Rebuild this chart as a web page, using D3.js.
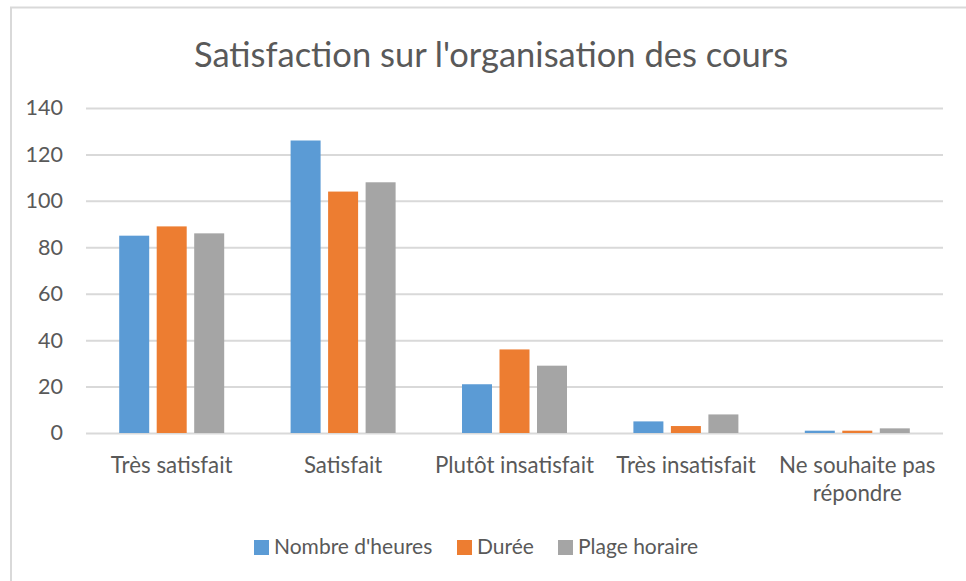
<!DOCTYPE html>
<html>
<head>
<meta charset="utf-8">
<script src="https://cdn.jsdelivr.net/npm/d3@7"></script>
<style>
  body { margin: 0; background: #fff; }
  svg { display: block; font-family: Lato, "Open Sans", sans-serif; }
</style>
</head>
<body>
<svg></svg>
<script>
const categories = ["Très satisfait", "Satisfait", "Plutôt insatisfait", "Très insatisfait", "Ne souhaite pas répondre"];
const seriesNames = ["Nombre d'heures", "Durée", "Plage horaire"];
const nombreHeures = [85, 126, 21, 5, 1];
const duree = [89, 104, 36, 3, 1];
const plageHoraire = [86, 108, 29, 8, 2];
const yTicks = [0, 20, 40, 60, 80, 100, 120, 140];

const colors = ["#5B9BD5", "#ED7D31", "#A5A5A5"];
const seriesValues = [nombreHeures, duree, plageHoraire];

const width = 966;
const height = 581;
const plotLeft = 86;
const plotRight = 943;
const plotTop = 108;
const plotBottom = 433;

const svg = d3.select("svg").attr("width", width).attr("height", height);

// chart frame
svg
  .append("rect")
  .attr("x", 11)
  .attr("y", 7.5)
  .attr("width", 980)
  .attr("height", 580)
  .attr("fill", "#fff")
  .attr("stroke", "#D9D9D9")
  .attr("stroke-width", 2);

svg
  .append("text")
  .attr("x", 491)
  .attr("y", 67)
  .attr("text-anchor", "middle")
  .attr("fill", "#595959")
  .style("font-size", "34.5px")
  .text("Satisfaction sur l'organisation des cours");

const x0 = d3.scaleBand().domain(categories).range([plotLeft, plotRight]).paddingInner(0).paddingOuter(0);
const groupWidth = 105;
const x1 = d3
  .scaleBand()
  .domain(d3.range(seriesNames.length))
  .range([(x0.bandwidth() - groupWidth) / 2, (x0.bandwidth() + groupWidth) / 2])
  .paddingInner(0.2);
const y = d3.scaleLinear().domain([0, 140]).range([plotBottom, plotTop]);

// gridlines + y labels
const yAxis = svg
  .append("g")
  .attr("transform", `translate(${plotLeft},0)`)
  .call(d3.axisLeft(y).tickValues(yTicks).tickSize(-(plotRight - plotLeft)).tickPadding(23));
yAxis.select(".domain").remove();
yAxis.selectAll(".tick line").attr("stroke", "#D9D9D9").attr("stroke-width", 2);
yAxis
  .selectAll(".tick text")
  .attr("fill", "#595959")
  .style("font-size", "21.5px")
  .style("font-family", "Lato, sans-serif");

// bars
const rows = categories.map((c, i) => ({ cat: c, vals: seriesValues.map((s) => s[i]) }));
svg
  .append("g")
  .selectAll("g")
  .data(rows)
  .join("g")
  .attr("transform", (d) => `translate(${x0(d.cat)},0)`)
  .selectAll("rect")
  .data((d) => d.vals.map((v, k) => ({ v, k })))
  .join("rect")
  .attr("x", (d) => x1(d.k))
  .attr("width", x1.bandwidth())
  .attr("y", (d) => y(d.v))
  .attr("height", (d) => y(0) - y(d.v))
  .attr("fill", (d) => colors[d.k]);

// x labels
const xAxis = svg
  .append("g")
  .attr("transform", `translate(0,${plotBottom})`)
  .call(d3.axisBottom(x0).tickSize(0).tickPadding(24));
xAxis.select(".domain").remove();
xAxis
  .selectAll(".tick text")
  .attr("fill", "#595959")
  .style("font-size", "22.3px")
  .style("font-family", "Lato, sans-serif")
  .call(wrap, x0.bandwidth() - 4);

function wrap(texts, w) {
  texts.each(function () {
    const text = d3.select(this);
    const words = text.text().split(/\s+/);
    const yy = text.attr("y");
    const dy = parseFloat(text.attr("dy"));
    let line = [];
    let lineNo = 0;
    let tspan = text.text(null).append("tspan").attr("x", 0).attr("y", yy).attr("dy", dy + "em");
    words.forEach((word) => {
      line.push(word);
      tspan.text(line.join(" "));
      if (tspan.node().getComputedTextLength() > w && line.length > 1) {
        line.pop();
        tspan.text(line.join(" "));
        line = [word];
        lineNo++;
        tspan = text
          .append("tspan")
          .attr("x", 0)
          .attr("y", yy)
          .attr("dy", lineNo * 1.25 + dy + "em")
          .text(word);
      }
    });
  });
}

// legend
const legend = svg.append("g").attr("transform", "translate(0,547)");
const legendX = [254, 457, 558];
seriesNames.forEach((name, k) => {
  const g = legend.append("g").attr("transform", `translate(${legendX[k]},0)`);
  g.append("rect").attr("x", 0).attr("y", -7).attr("width", 15).attr("height", 15).attr("fill", colors[k]);
  g.append("text")
    .attr("x", 20)
    .attr("y", 0)
    .attr("dy", "0.35em")
    .attr("fill", "#595959")
    .style("font-size", "21px")
    .text(name);
});
</script>
</body>
</html>
